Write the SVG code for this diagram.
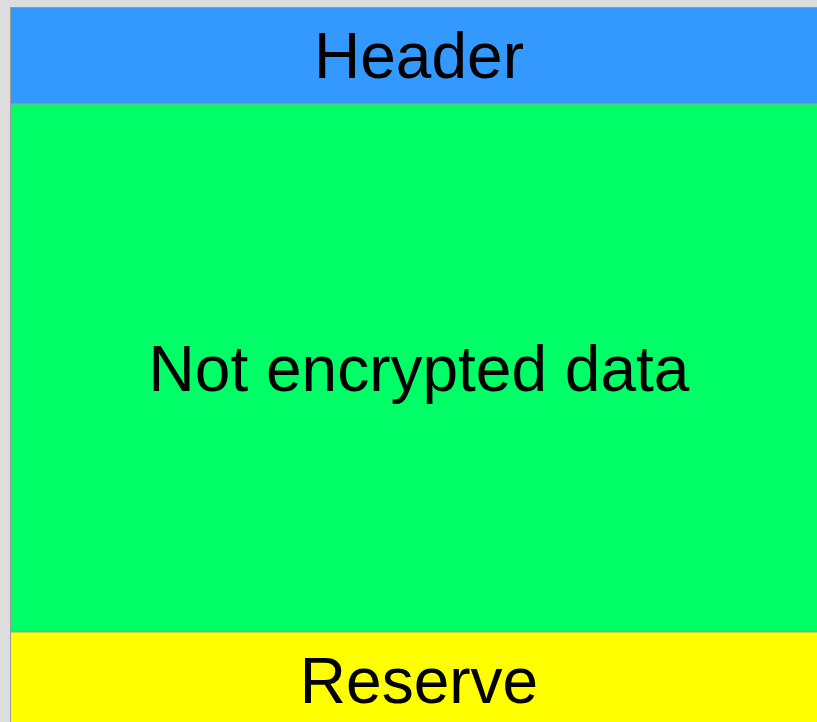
<svg xmlns="http://www.w3.org/2000/svg" width="817" height="722" viewBox="0 0 817 722">
<style>
.blk{stroke:#999999;stroke-width:1}
.lbl{font-family:"Liberation Sans",Arial,sans-serif;font-size:64px;fill:#000000;text-anchor:middle}
</style>
<rect x="0" y="0" width="817" height="722" fill="#dddddd"/>
<g id="header">
<rect class="blk" x="10.5" y="7.5" width="820" height="96.5" fill="#3399ff"/>
<text class="lbl" x="419" y="78">Header</text>
</g>
<g id="data">
<rect class="blk" x="10.5" y="104" width="820" height="528" fill="#00ff66"/>
<text class="lbl" x="419" y="391">Not encrypted data</text>
</g>
<g id="reserve">
<rect class="blk" x="10.5" y="632" width="820" height="100" fill="#ffff00"/>
<text class="lbl" x="419" y="703">Reserve</text>
</g>
<g id="connectors"></g>
</svg>
